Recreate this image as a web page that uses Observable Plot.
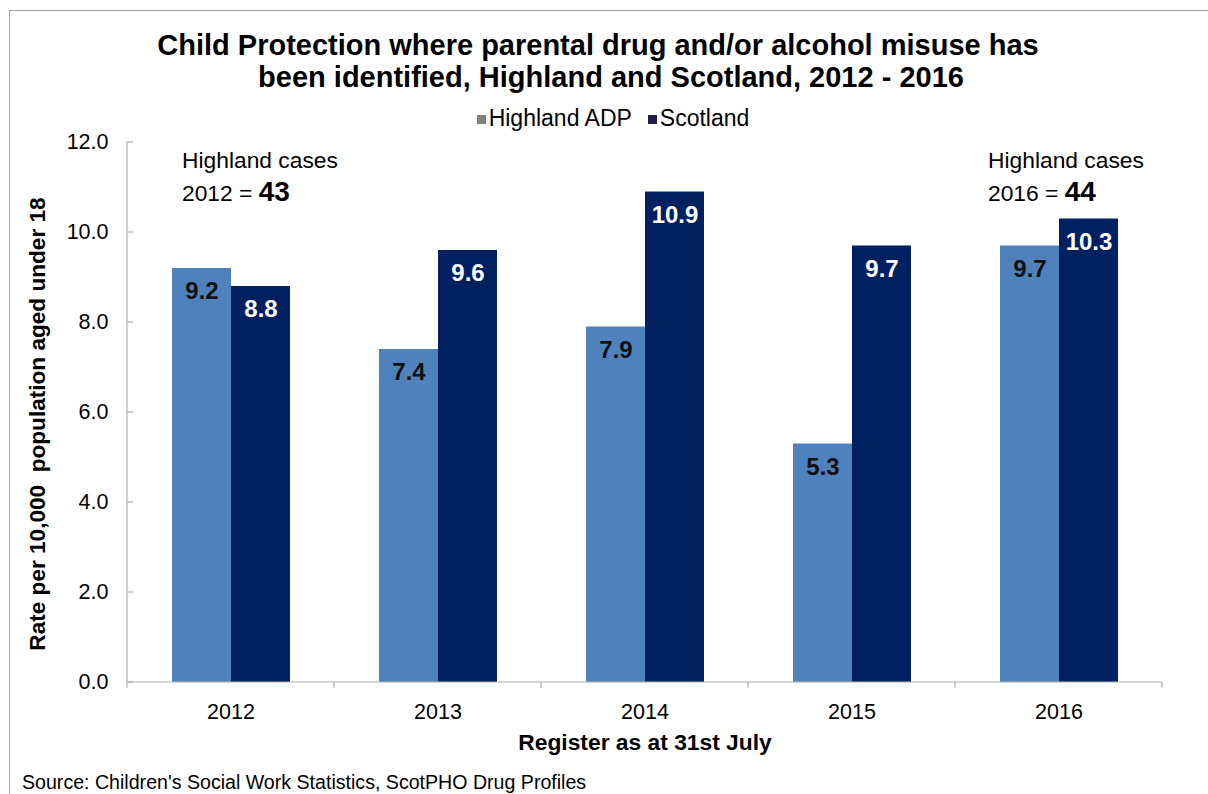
<!DOCTYPE html>
<html>
<head>
<meta charset="utf-8">
<script src="https://cdn.jsdelivr.net/npm/d3@7"></script>
<script src="https://cdn.jsdelivr.net/npm/@observablehq/plot@0.6"></script>
<style>
  body { margin: 0; background: #fff; font-family: "Liberation Sans", Arial, sans-serif; color: #000; }
  #wrap { position: relative; width: 1208px; height: 794px; overflow: hidden; background: #fff; }
  #frame { position: absolute; left: 9px; top: 10px; width: 1199px; height: 784px; border-top: 1.5px solid #a6a6a6; border-left: 1.5px solid #a6a6a6; box-sizing: border-box; }
  .tline { position: absolute; width: 1208px; text-align: center; font-weight: bold; font-size: 29px; line-height: 32px; white-space: nowrap; }
  #legend { position: absolute; top: 107px; left: 0; width: 1226px; text-align: center; font-size: 23px; line-height: 22px; white-space: nowrap; }
  #legend .item { display: inline-block; margin: 0 8px; }
  #legend .sw { display: inline-block; width: 9px; height: 9px; margin-right: 3px; vertical-align: 2px; }
  #chart { position: absolute; left: 0; top: 130px; }
  #ylabel { position: absolute; left: 38px; top: 424px; transform: translate(-50%, -50%) rotate(-90deg); font-weight: bold; font-size: 22.6px; white-space: pre; }
  #xlabel { position: absolute; left: 645px; top: 742px; transform: translate(-50%, -50%); font-weight: bold; font-size: 22.8px; white-space: nowrap; }
  #source { position: absolute; left: 22px; top: 771px; font-size: 19.6px; line-height: 22px; white-space: nowrap; }
  .note { position: absolute; font-size: 22.8px; line-height: 32px; white-space: nowrap; }
  .note b { font-size: 28px; }
</style>
</head>
<body>
<div id="wrap">
  <div id="frame"></div>
  <div class="tline" style="top:29px; left:-6px;">Child Protection where parental drug and/or alcohol misuse has</div>
  <div class="tline" style="top:61px; left:7px;">been identified, Highland and Scotland, 2012 - 2016</div>
  <div id="legend"></div>
  <div id="chart"></div>
  <div id="ylabel">Rate per 10,000  population aged under 18</div>
  <div id="xlabel">Register as at 31st July</div>
  <div id="source">Source: Children's Social Work Statistics, ScotPHO Drug Profiles</div>
</div>
<script>
// ---- data ----
const years = ["2012", "2013", "2014", "2015", "2016"];
const series = ["Highland ADP", "Scotland"];
const highland = [9.2, 7.4, 7.9, 5.3, 9.7];
const scotland = [8.8, 9.6, 10.9, 9.7, 10.3];
const yTicks = [0, 2, 4, 6, 8, 10, 12];
const caseYears = ["2012", "2016"];
const cases = [43, 44];
const noteLabel = "Highland cases";

// ---- styles ----
const barColors = ["#4f81bd", "#002060"];
const swatchColors = ["#808080", "#1f1f45"];
const axisColor = "#b0b0b0";

const rows = years.flatMap((yr, i) => [
  { year: yr, series: series[0], value: highland[i] },
  { year: yr, series: series[1], value: scotland[i] }
]);

const plot = Plot.plot({
  width: 1208,
  height: 640,
  marginLeft: 127,
  marginRight: 46,
  marginTop: 12,
  marginBottom: 88,
  style: { fontFamily: "Liberation Sans, Arial, sans-serif", fontSize: "21.5px", color: "#000", background: "transparent", overflow: "visible" },
  fx: { domain: years, padding: 0, axis: "bottom", tickSize: 0, tickPadding: 21, label: null },
  x: { domain: series, paddingInner: 0, paddingOuter: 0.754, axis: null },
  y: { domain: [0, 12], ticks: yTicks, tickFormat: d => d.toFixed(1), tickSize: 0, tickPadding: 19, label: null, grid: false },
  color: { domain: series, range: barColors },
  marks: [
    Plot.barY(rows, { fx: "year", x: "series", y: "value", fill: "series" }),
    Plot.text(rows.filter(d => d.series === series[0]), {
      fx: "year", x: "series", y: "value", text: d => d.value.toFixed(1),
      dy: 23, fill: "#111", fontWeight: "bold", fontSize: 24
    }),
    Plot.text(rows.filter(d => d.series === series[1]), {
      fx: "year", x: "series", y: "value", text: d => d.value.toFixed(1),
      dy: 23, fill: "#fff", fontWeight: "bold", fontSize: 24
    })
  ]
});

document.getElementById("chart").appendChild(plot);

// axis lines and ticks from Plot's scales
const fxs = plot.scale("fx");
const ys = plot.scale("y");
const svg = d3.select(plot);
const g = svg.append("g").attr("stroke", axisColor).attr("stroke-width", 1.2);
const x0 = fxs.apply(years[0]);
const xEnd = fxs.apply(years[years.length - 1]) + fxs.bandwidth;
const yBase = ys.apply(0);
g.append("line").attr("x1", x0).attr("x2", x0).attr("y1", ys.apply(12)).attr("y2", yBase);
yTicks.forEach(t => g.append("line").attr("x1", x0).attr("x2", x0 + 6).attr("y1", ys.apply(t)).attr("y2", ys.apply(t)));
g.append("line").attr("x1", x0).attr("x2", xEnd).attr("y1", yBase).attr("y2", yBase);
years.forEach(yr => {
  const x = fxs.apply(yr);
  g.append("line").attr("x1", x).attr("x2", x).attr("y1", yBase).attr("y2", yBase + 6);
});
g.append("line").attr("x1", xEnd).attr("x2", xEnd).attr("y1", yBase).attr("y2", yBase + 6);

// legend
const legend = d3.select("#legend");
series.forEach((s, i) => {
  const it = legend.append("span").attr("class", "item");
  it.append("span").attr("class", "sw").style("background", swatchColors[i]);
  it.append("span").text(s);
});

// Highland case annotations
const wrap = d3.select("#wrap");
const noteLeft = [182, 988];
caseYears.forEach((yr, i) => {
  const n = wrap.append("div").attr("class", "note").style("left", noteLeft[i] + "px").style("top", "144px");
  n.append("div").text(noteLabel);
  const l2 = n.append("div");
  l2.append("span").text(yr + " = ");
  l2.append("b").text(cases[i]);
});
</script>
</body>
</html>
